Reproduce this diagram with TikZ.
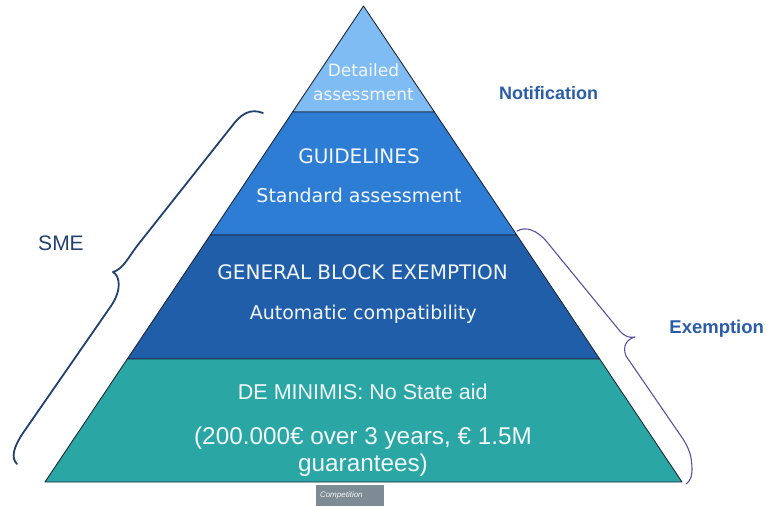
\documentclass[tikz,border=0pt]{standalone}
\usepackage{fontspec}
\setmainfont{Liberation Sans}
\newfontfamily\tahomalike{DejaVu Sans}
\usetikzlibrary{calc}

\definecolor{tipblue}{RGB}{128,188,244}
\definecolor{guideblue}{RGB}{46,125,213}
\definecolor{blockblue}{RGB}{32,94,170}
\definecolor{minimisteal}{RGB}{42,167,165}
\definecolor{edgeline}{RGB}{28,40,58}
\definecolor{tiertextc}{RGB}{242,246,251}
\definecolor{labelblue}{RGB}{42,92,168}
\definecolor{smenavy}{RGB}{33,66,112}
\definecolor{exbrace}{RGB}{92,80,160}
\definecolor{tabgrey}{RGB}{124,139,148}

\begin{document}
\begin{tikzpicture}[x=1pt,y=-1pt,line join=round,line cap=round,
    layer/.style={draw=edgeline,line width=0.9pt},
    tiertext/.style={text=tiertextc,inner sep=0pt,align=center},
    sidelabel/.style={text=labelblue,inner sep=0pt,font=\bfseries\fontsize{18}{20}\selectfont}]
  \useasboundingbox (0,0) rectangle (766,506);
  % corners of the pyramid and the cuts between the tiers
  \coordinate (apex) at (363.5,6);
  \coordinate (bl) at (45,482);
  \coordinate (br) at (682,482);
  \foreach \k/\f in {1/0.2227,2/0.4811,3/0.7416}{
    \coordinate (l\k) at ($(apex)!\f!(bl)$);
    \coordinate (r\k) at ($(apex)!\f!(br)$);
  }
  \filldraw[layer,fill=tipblue] (apex)--(r1)--(l1)--cycle;
  \filldraw[layer,fill=guideblue] (l1)--(r1)--(r2)--(l2)--cycle;
  \filldraw[layer,fill=blockblue] (l2)--(r2)--(r3)--(l3)--cycle;
  \filldraw[layer,fill=minimisteal] (l3)--(r3)--(br)--(bl)--cycle;

  % tier texts
  \node[tiertext,font=\tahomalike\fontsize{17}{24}\selectfont] (detailed) at (363.5,82.5) {Detailed\\assessment};
  \node[tiertext,font=\tahomalike\fontsize{20}{24}\selectfont] (guidelines) at (359,156.5) {GUIDELINES};
  \node[tiertext,font=\tahomalike\fontsize{19}{24}\selectfont] (standard) at (359,195) {Standard assessment};
  \node[tiertext,font=\tahomalike\fontsize{20}{24}\selectfont] (gber) at (362.7,272.5) {GENERAL BLOCK EXEMPTION};
  \node[tiertext,font=\tahomalike\fontsize{19}{24}\selectfont] (automatic) at (363.3,314) {Automatic compatibility};
  \node[tiertext,font=\fontsize{21.5}{24}\selectfont] (minimis) at (362.8,392) {DE MINIMIS: No State aid};
  \node[tiertext,font=\fontsize{24.3}{27}\selectfont] (ceiling) at (363,452) {(200.000€ over 3 years, € 1.5M\\guarantees)};

  % SME brace on the left
  \draw[smenavy,line width=1.8pt] (263,113) .. controls (250,108) and (241,114) .. (232,126) -- (137,246)
    .. controls (128,258) and (123,269) .. (113,272) .. controls (120,276) and (122,290) .. (111,306)
    -- (23,433) .. controls (13,448) and (11,458) .. (17,464);
  \node[text=smenavy,inner sep=0pt,font=\fontsize{21}{24}\selectfont] (sme) at (61,243) {SME};

  % exemption brace on the right
  \draw[exbrace,line width=1.1pt] (517,231) .. controls (526,226) and (537,230) .. (547,242) -- (619,330)
    .. controls (625,337) and (629,338) .. (635,337) .. controls (627,339) and (622,346) .. (626,356)
    -- (683,439) .. controls (690,450) and (692,458) .. (692,470) .. controls (692,477) and (690,481) .. (686,484);

  \node[sidelabel] (notification) at (548.5,93.5) {Notification};
  \node[sidelabel,font=\bfseries\fontsize{18.5}{20}\selectfont] (exemption) at (716.7,328.5) {Exemption};

  % grey tab under the base
  \node[fill=tabgrey,text=white!92!tabgrey,minimum height=21pt,inner xsep=4pt,text width=60pt,
    align=left,font=\itshape\fontsize{8}{9}\selectfont] (tab) at (350,495.5) {Competition};
\end{tikzpicture}
\end{document}
